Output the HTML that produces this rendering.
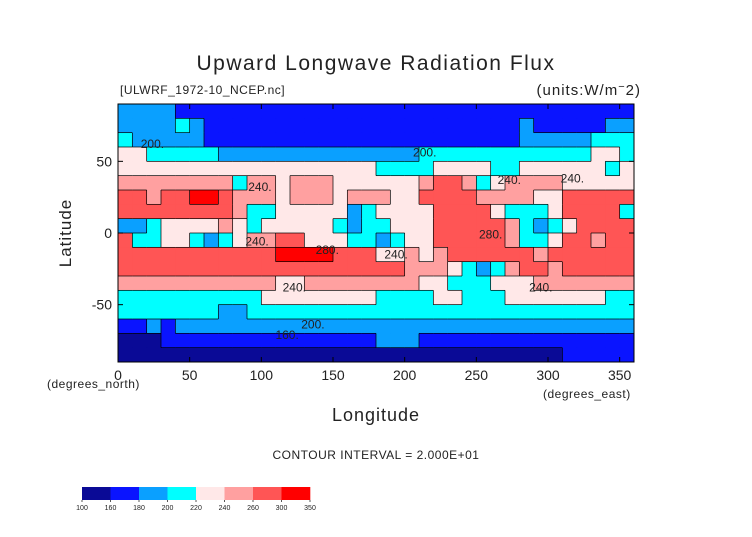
<!DOCTYPE html>
<html><head><meta charset="utf-8"><style>
body{margin:0;background:#fff;}
svg text{font-family:"Liberation Sans",sans-serif;fill:#222;}
</style></head><body>
<svg id="chart" width="752" height="532" viewBox="0 0 752 532">
<text x="376" y="70" text-anchor="middle" font-size="21" letter-spacing="1.5">Upward Longwave Radiation Flux</text>
<text x="120" y="94" font-size="12" letter-spacing="0.5">[ULWRF_1972-10_NCEP.nc]</text>
<text x="641" y="95" text-anchor="end" font-size="15" letter-spacing="1">(units:W/m<tspan font-size="11" dy="-5">−</tspan><tspan dy="5">2)</tspan></text>
<g id="map"></g>
<g id="lines"></g>
<g id="clabels"></g>
<rect x="118" y="104" width="516" height="258" fill="none" stroke="#000" stroke-width="1"/>
<g id="axes"></g>
<text x="0" y="0" transform="translate(71,233) rotate(-90)" text-anchor="middle" font-size="17" letter-spacing="1">Latitude</text>
<text x="47" y="388" font-size="12" letter-spacing="0.5">(degrees_north)</text>
<text x="543" y="398" font-size="12" letter-spacing="0.5">(degrees_east)</text>
<text x="376" y="421" text-anchor="middle" font-size="18" letter-spacing="1">Longitude</text>
<text x="376" y="459" text-anchor="middle" font-size="12" letter-spacing="0.5">CONTOUR INTERVAL = 2.000E+01</text>
<g id="cbar"></g>
</svg>
<script>
const levelBounds = [100,160,180,200,220,240,260,300,350];
const levelColors = ["#0a0a96","#0a14ff","#0aa0ff","#00ffff","#ffe8e8","#ffa0a0","#ff5555","#ff0000"];
const xTicks = [0,50,100,150,200,250,300,350];
const yTicks = [50,0,-50];
// flux level index per 10x10 deg cell, rows from 90N to 90S, columns from 0E eastward
const levelRows = [
"222211111111111111111111111111111111",
"222232111111111111111111111121111122",
"322222111111111111111111111122222333",
"443333322222222222222333333333333443",
"444444444444444444333344443344444434",
"555555553554555444444566534555544444",
"665667765554555455544666655554466666",
"666666665334444423444466664333466663",
"223444454344444323344466666532346666",
"633443234556644433234466666533466566",
"666666666667777666445456666665666666",
"666666666666666666665554323566566666",
"555555555554455555555443334445555555",
"333333333344444444333344333444444433",
"333333322333333333333333333333333333",
"112122222222222222222222222222222222",
"000111111111111111222111111111111111",
"000000000000000000000000000000011111"
];
const contourLabels = [["200.",24,62],["200.",214,56],["240.",99,32],["240.",273,37],["240.",317,38],["240.",97,-6],["280.",146,-12],["240.",194,-15],["280.",260,-1],["240.",123,-38],["240.",295,-38],["200.",136,-64],["160.",118,-71]];
const NS="http://www.w3.org/2000/svg";
const X0=118,X1=634,Y0=104,Y1=362;
const xs=lon=>X0+(lon/360)*(X1-X0);
const ys=lat=>Y0+((90-lat)/180)*(Y1-Y0);
function mk(tag,attrs,parent){const e=document.createElementNS(NS,tag);for(const k in attrs)e.setAttribute(k,attrs[k]);parent.appendChild(e);return e;}
const map=document.getElementById('map'),lines=document.getElementById('lines');
const nR=levelRows.length,nC=levelRows[0].length,dLon=360/nC,dLat=180/nR;
const lv=(r,c)=>+levelRows[r][c];
for(let r=0;r<nR;r++)for(let c=0;c<nC;c++){
  const x=xs(c*dLon),y=ys(90-r*dLat),w=xs((c+1)*dLon)-x,h=ys(90-(r+1)*dLat)-y;
  const el=mk('rect',{x:x,y:y,width:w+0.4,height:h+0.4,fill:levelColors[lv(r,c)]},map);
  
  
}
for(let r=0;r<nR;r++)for(let c=0;c<nC;c++){
  if(c<nC-1&&lv(r,c)!==lv(r,c+1)){const x=xs((c+1)*dLon);const l=mk('line',{x1:x,x2:x,y1:ys(90-r*dLat),y2:ys(90-(r+1)*dLat),stroke:'#000','stroke-width':0.7},lines);}
  if(r<nR-1&&lv(r,c)!==lv(r+1,c)){const y=ys(90-(r+1)*dLat);const l=mk('line',{x1:xs(c*dLon),x2:xs((c+1)*dLon),y1:y,y2:y,stroke:'#000','stroke-width':0.7},lines);}
}
const cl=document.getElementById('clabels');
contourLabels.forEach(d=>{const t=mk('text',{x:xs(d[1]),y:ys(d[2])+4,'font-size':12,'text-anchor':'middle'},cl);t.textContent=d[0];});
const ax=document.getElementById('axes');
xTicks.forEach(v=>{const x=xs(v);
  const l=mk('line',{x1:x,x2:x,y1:Y1,y2:Y1-5,stroke:'#000'},ax);
  const l2=mk('line',{x1:x,x2:x,y1:Y0,y2:Y0+5,stroke:'#000'},ax);
  const t=mk('text',{x:x,y:380,'font-size':14,'text-anchor':'middle'},ax);t.textContent=v;});
yTicks.forEach(v=>{const y=ys(v);
  const l=mk('line',{x1:X0,x2:X0+5,y1:y,y2:y,stroke:'#000'},ax);
  const l2=mk('line',{x1:X1,x2:X1-5,y1:y,y2:y,stroke:'#000'},ax);
  const t=mk('text',{x:112,y:y+5,'font-size':14,'text-anchor':'end'},ax);t.textContent=v;});
const cb=document.getElementById('cbar');const bx=82,bw=228,by=487,bh=13,n=levelColors.length;
levelColors.forEach((c,i)=>{const r=mk('rect',{x:bx+i*bw/n,y:by,width:bw/n+0.3,height:bh,fill:c},cb);});
levelBounds.forEach((v,i)=>{const x=bx+i*bw/n;const t=mk('text',{x:x,y:510,'font-size':7,'text-anchor':'middle'},cb);t.textContent=v;
  const l=mk('line',{x1:x,x2:x,y1:by+bh,y2:by+bh+2,stroke:'#555'},cb);});
</script>
</body></html>
